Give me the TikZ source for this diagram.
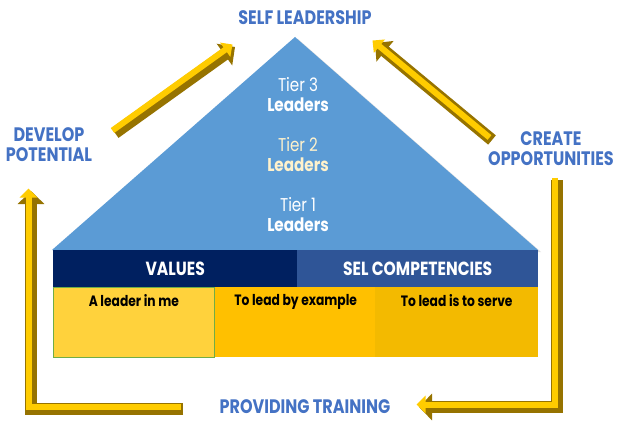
\documentclass[tikz,border=0pt]{standalone}
\usepackage{fontspec}
\setmainfont{Poppins}[FakeStretch=0.82]
\usetikzlibrary{arrows.meta, shadows}
\definecolor{skyblue}{RGB}{91,155,213}
\definecolor{navy}{RGB}{0,32,96}
\definecolor{midblue}{RGB}{47,85,151}
\definecolor{labelblue}{RGB}{68,114,196}
\definecolor{goldA}{RGB}{255,210,60}
\definecolor{goldB}{RGB}{255,192,0}
\definecolor{goldC}{RGB}{243,186,0}
\definecolor{goldlight}{RGB}{255,204,0}
\definecolor{golddark}{RGB}{150,115,0}
\definecolor{paleyellow}{RGB}{255,242,204}
\definecolor{cellgreen}{RGB}{112,173,71}

\tikzset{
  toplabel/.style={font=\bfseries\fontsize{19.5}{20}\selectfont, text=labelblue, align=center},
  barbox/.style={rectangle, inner sep=0pt, anchor=north west, minimum height=37pt,
    text=white, font=\bfseries\fontsize{19}{20}\selectfont},
  cellbox/.style={rectangle, inner sep=0pt, anchor=north west, minimum width=161pt, minimum height=70pt},
  celltext/.style={font=\bfseries\fontsize{15}{16}\selectfont, text=black, anchor=north},
  tiertext/.style={text=white, align=center, font=\fontsize{18.5}{20}\selectfont}
}

% 3D gold arrow: dark underside plus lighter face
\newcommand{\goldarrow}[1]{%
  \draw[line width=12pt, golddark, line join=miter, -{Triangle[width=26pt,length=13pt]}] #1;
  \draw[line width=6pt, goldlight, line join=miter, -{Triangle[width=17pt,length=9pt]},
    transform canvas={shift={(-2.5pt,2.5pt)}}] #1;
}

\begin{document}
\begin{tikzpicture}[x=1pt, y=-1pt]
  \useasboundingbox (0,0) rectangle (618,441);
  \fill[white] (0,0) rectangle (618,441);

  % pyramid
  \fill[skyblue, drop shadow={opacity=0.25, shadow xshift=3pt, shadow yshift=-2pt}]
    (295,37) -- (538,250) -- (52,250) -- cycle;
  \node[tiertext] (tier3) at (298,95) {Tier 3\\\textbf{Leaders}};
  \node[tiertext, text=paleyellow] (tier2) at (298,155) {Tier 2\\\textbf{Leaders}};
  \node[tiertext] (tier1) at (298,215) {Tier 1\\\textbf{Leaders}};

  % base bars
  \node[barbox, fill=navy, minimum width=244pt] (values) at (53,250) {VALUES};
  \node[barbox, fill=midblue, minimum width=241pt] (selcomp) at (297,250) {SEL COMPETENCIES};
  \node[cellbox, fill=goldB, minimum width=163pt] (cellB) at (214,287) {};
  \node[cellbox, fill=goldC, minimum width=163pt] (cellC) at (375,287) {};
  \node[cellbox, fill=goldA, draw=cellgreen, line width=0.8pt] (cellA) at (53,287) {};
  \node[celltext, below=4pt] (leaderme) at (cellA.north) {A leader in me};
  \node[celltext, below=4pt] (example) at (cellB.north) {To lead by example};
  \node[celltext, below=4pt] (serve) at (cellC.north) {To lead is to serve};

  % outer labels
  \node[toplabel] (selflead) at (305,18) {SELF LEADERSHIP};
  \node[toplabel] (develop) at (49,145) {DEVELOP\\POTENTIAL};
  \node[toplabel] (create) at (551,149) {CREATE\\OPPORTUNITIES};
  \node[toplabel] (training) at (305,407) {PROVIDING TRAINING};

  % cycle arrows
  \coordinate (lstart) at (183,409);
  \coordinate (lcorner) at (31,409);
  \coordinate (ltip) at (31,191);
  \coordinate (dlstart) at (115,133);
  \coordinate (dltip) at (235,47);
  \coordinate (drstart) at (492,140);
  \coordinate (drtip) at (375,43);
  \coordinate (rstart) at (557,180);
  \coordinate (rcorner) at (557,407);
  \coordinate (rtip) at (419,407);
  \goldarrow{(lstart) -- (lcorner) -- (ltip)}
  \goldarrow{(dlstart) -- (dltip)}
  \goldarrow{(drstart) -- (drtip)}
  \goldarrow{(rstart) -- (rcorner) -- (rtip)}
\end{tikzpicture}
\end{document}
